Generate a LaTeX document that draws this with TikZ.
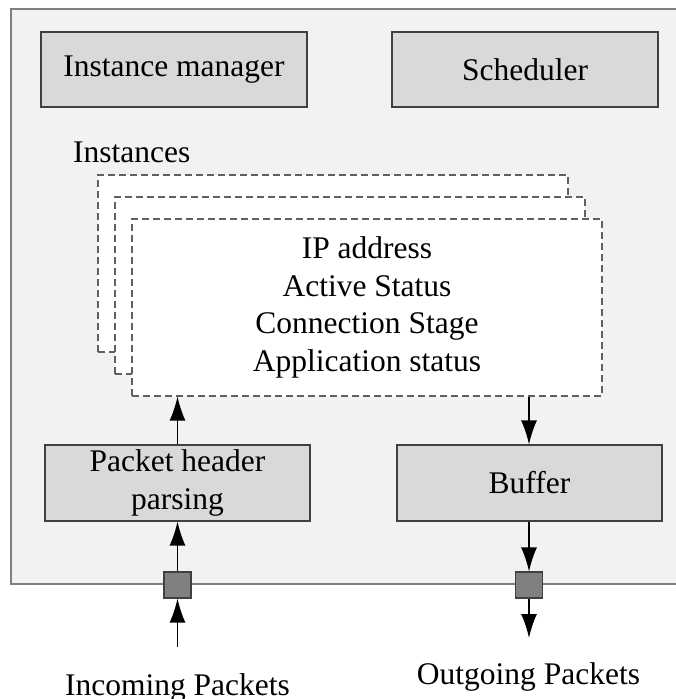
\documentclass[tikz,border=0pt]{standalone}
\usepackage{fontspec}
\setmainfont{Liberation Serif}
\usetikzlibrary{arrows.meta}
\definecolor{panel}{HTML}{F2F2F2}
\definecolor{boxfill}{HTML}{D9D9D9}
\definecolor{portfill}{HTML}{808080}
\definecolor{edge}{HTML}{404040}
\definecolor{paneledge}{HTML}{7F7F7F}
\definecolor{dashedge}{HTML}{606060}
\begin{document}
\begin{tikzpicture}[x=1pt,y=-1pt,
  every node/.style={font=\fontsize{31.5}{37.8}\selectfont},
  block/.style={draw=edge,line width=1.1pt,fill=boxfill,minimum width=266pt,minimum height=75pt,align=center,inner sep=0pt},
  inst/.style={draw=dashedge,line width=1.1pt,dash pattern=on 7pt off 4pt,fill=white,minimum width=470pt,minimum height=177pt,align=center,inner sep=0pt},
  port/.style={draw=edge,line width=1.1pt,fill=portfill,minimum width=27pt,minimum height=26pt,inner sep=0pt},
  flow/.style={line width=1.6pt,-{Latex[length=24pt,width=16pt]}},
  label/.style={inner sep=0pt}]
\useasboundingbox (0,0) rectangle (676,699);
% system panel
\draw[paneledge,line width=1.1pt,fill=panel] (11,9) rectangle (700,584);
% top blocks
\node[block] (mgr) at (174,69.5) {Instance manager};
\node[block] (sched) at (525,69.5) {Scheduler};
% stacked instance records
\node[label,anchor=base west] (instlbl) at (73,162) {Instances};
\node[inst] (i1) at (333,263.5) {};
\node[inst] (i2) at (350,285.5) {};
\node[inst] (i3) at (367,307.5) {IP address\\Active Status\\Connection Stage\\Application status};
% lower blocks
\node[block,minimum width=265pt,minimum height=76pt] (parse) at (177.5,483) {Packet header\\parsing};
\node[block,minimum width=265pt,minimum height=76pt] (buf) at (529.5,483) {Buffer};
% ports
\node[port] (pin) at (177.5,585) {};
\node[port] (pout) at (529,585) {};
% external labels
\node[label,anchor=base] (inlbl) at (177.5,695) {Incoming Packets};
\node[label,anchor=base] (outlbl) at (528.5,684) {Outgoing Packets};
\coordinate (src) at (177.5,647);
\coordinate (dst) at (529,638);
% packet flow
\draw[flow] (src) -- (pin.south);
\draw[flow] (pin.north) -- (parse.south -| pin.north);
\draw[flow] (parse.north) -- (parse.north |- i3.south);
\draw[flow] (i3.south -| pout.north) -- (buf.north -| pout.north);
\draw[flow] (buf.south -| pout.north) -- (pout.north);
\draw[flow] (pout.south) -- (dst);
\end{tikzpicture}
\end{document}
